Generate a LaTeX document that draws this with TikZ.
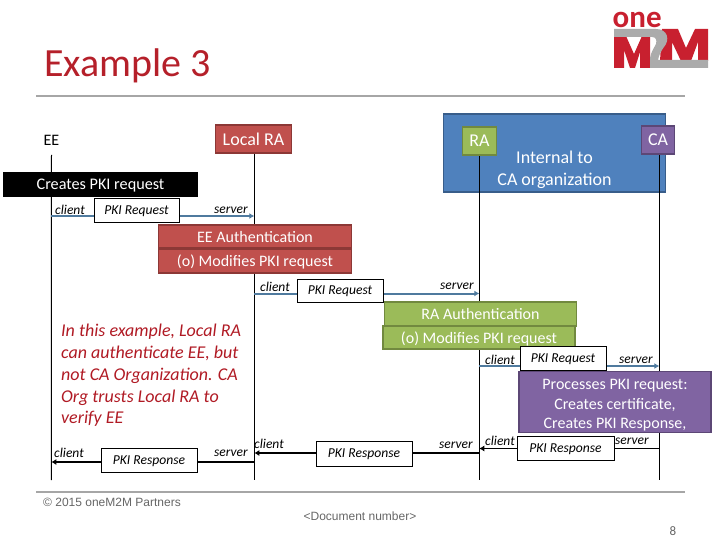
\documentclass[tikz,border=0pt]{standalone}
\usepackage{fontspec}
\setmainfont{Carlito}
\newfontfamily\footfont{Liberation Sans}
\usetikzlibrary{arrows.meta}
\definecolor{redfill}{HTML}{C0504D}\definecolor{redline}{HTML}{8C3836}
\definecolor{greenfill}{HTML}{9BBB59}\definecolor{greenline}{HTML}{71893F}
\definecolor{purplefill}{HTML}{8064A2}\definecolor{purpleline}{HTML}{5C4776}
\definecolor{bluefill}{HTML}{4F81BD}\definecolor{blueline}{HTML}{385D8A}
\definecolor{msgblue}{HTML}{4F7A9E}\definecolor{rulegray}{HTML}{A6A6A6}
\definecolor{titlered}{HTML}{B5202A}\definecolor{logored}{HTML}{C8202F}
\definecolor{logogray}{HTML}{ABABAB}\definecolor{textred}{HTML}{B01A24}
\pgfdeclarelayer{backlayer}\pgfdeclarelayer{linelayer}
\pgfsetlayers{backlayer,linelayer,main}
\tikzset{
  x=1pt,y=-1pt,
  actor/.style={draw,line width=1.6pt,text=white,font=\fontsize{16}{16}\selectfont,inner sep=0pt,text depth=0pt},
  redbox/.style={actor,fill=redfill,draw=redline},
  greenbox/.style={actor,fill=greenfill,draw=greenline},
  purplebox/.style={actor,fill=purplefill,draw=purpleline},
  msgbox/.style={draw=black,fill=white,line width=0.8pt,inner sep=0pt,text height=9pt,text depth=0.5pt,font=\fontsize{13.6}{14}\selectfont\itshape},
  rolelabel/.style={inner sep=0pt,font=\fontsize{13.5}{14}\selectfont\itshape},
  lifeline/.style={draw=black,line width=1pt},
  reqarrow/.style={draw=msgblue,line width=2pt,-{Latex[length=5pt,width=6pt]}},
  resparrow/.style={draw=black,line width=1.8pt,-{Latex[length=5pt,width=6pt]}},
  footrule/.style={draw=rulegray,line width=1.5pt},
}
\begin{document}
\begin{tikzpicture}
\useasboundingbox (0,0) rectangle (720,540);
% title and rules
\node[anchor=base west,inner sep=0pt,text=titlered,font=\fontsize{40}{40}\selectfont] (title) at (44,77) {Example 3};
\coordinate (r1a) at (36,96); \coordinate (r1b) at (685,96);
\coordinate (r2a) at (36,492); \coordinate (r2b) at (685,492);
\draw[footrule] (r1a) -- (r1b);
\draw[footrule] (r2a) -- (r2b);
% logo
\node[anchor=base west,inner sep=0pt,text=logored,font=\fontsize{31}{31}\selectfont\bfseries] (one) at (612.5,27.5) {one};
\fill[logored] (614,36) -- (626,36) -- (634,54) -- (642,36) -- (650,36) -- (650,68) -- (640,68) -- (640,52) -- (635,68) -- (630,68) -- (624,50) -- (624,68) -- (614,68) -- cycle;
\fill[logored] (662,29) -- (678,29) -- (686,48) -- (695,29) -- (708,29) -- (708,61) -- (698,61) -- (698,42) -- (691,61) -- (681,61) -- (672,42) -- (672,61) -- (660,61) -- cycle;
\fill[logogray] (614,29) -- (656,29) .. controls (668,29) and (670,40) .. (664,47) .. controls (661,51) and (659,55) .. (658,60) -- (708,60) -- (708,68) -- (650,68) -- (650,58) .. controls (651,52) and (654,48) .. (656,44) .. controls (657,40) and (656,37) .. (652,37) -- (614,37) -- cycle;
% headers
\node[inner sep=0pt,font=\fontsize{16}{16}\selectfont] (ee) at (51.5,140) {EE};
\node[redbox,font=\fontsize{18}{18}\selectfont,minimum width=76pt,minimum height=28pt] (lra) at (253.5,139) {Local RA};
\begin{pgfonlayer}{backlayer}
\node[draw=blueline,fill=bluefill,line width=1.6pt,minimum width=222pt,minimum height=78pt,inner sep=0pt] (org) at (554.5,153) {};
\end{pgfonlayer}
\node[align=center,text=white,font=\fontsize{18}{22}\selectfont,inner sep=0pt] (orgtext) at (554.5,170) {Internal to\\CA organization};
\node[greenbox,font=\fontsize{18}{18}\selectfont,minimum width=34pt,minimum height=28pt] (ra) at (479.5,141) {RA};
\node[purplebox,font=\fontsize{18}{18}\selectfont,minimum width=33pt,minimum height=28pt] (ca) at (658,140) {CA};
\coordinate (eeend) at (51.3,480); \coordinate (lraend) at (254.3,480);
\coordinate (raend) at (479.3,480); \coordinate (caend) at (659.3,480);
% step boxes
\node[fill=black,text=white,font=\fontsize{16.2}{16}\selectfont,inner sep=0pt,text depth=0pt,minimum width=195pt,minimum height=25pt] (create) at (100.5,184.5) {Creates PKI request};
\node[redbox,minimum width=193pt,minimum height=23pt] (auth1) at (255,236.5) {EE Authentication};
\node[redbox,minimum width=193pt,minimum height=24pt] (mod1) at (255,261) {(o) Modifies PKI request};
\node[greenbox,minimum width=192pt,minimum height=24pt] (auth2) at (480.5,314) {RA Authentication};
\node[greenbox,minimum width=192pt,minimum height=23pt] (mod2) at (479,337.5) {(o) Modifies PKI request};
\node[purplebox,minimum width=192pt,minimum height=61pt,align=center,font=\fontsize{16}{19.5}\selectfont] (proc) at (615,402) {\rule{0pt}{14pt}Processes PKI request:\\Creates certificate,\\Creates PKI Response,};
% message boxes
\node[msgbox,minimum width=85pt,minimum height=24pt] (m1) at (136.5,210) {PKI Request};
\node[msgbox,minimum width=86pt,minimum height=23pt] (m2) at (340,290.5) {PKI Request};
\node[msgbox,minimum width=86pt,minimum height=24pt] (m3) at (563,358) {PKI Request};
\node[msgbox,minimum width=97pt,minimum height=24pt] (m4) at (565.5,448) {PKI Response};
\node[msgbox,minimum width=96pt,minimum height=25pt] (m5) at (364,453.5) {PKI Response};
\node[msgbox,minimum width=96pt,minimum height=24pt] (m6) at (149,460) {PKI Response};
% role labels
\node[rolelabel] (c1) at (70,210) {client};
\node[rolelabel] (s1) at (231,210) {server};
\node[rolelabel] (c2) at (275,287) {client};
\node[rolelabel] (s2) at (457,286) {server};
\node[rolelabel] (c3) at (500,360) {client};
\node[rolelabel] (s3) at (636,360) {server};
\node[rolelabel] (c4) at (500,441) {client};
\node[rolelabel] (s4) at (632,441) {server};
\node[rolelabel] (s5) at (456,445) {server};
\node[rolelabel] (c5) at (269,444) {client};
\node[rolelabel] (s6) at (231,453) {server};
\node[rolelabel] (c6) at (69,453) {client};
% note
\node[anchor=north west,align=left,inner sep=0pt,text=textred,font=\fontsize{18}{21.8}\selectfont\itshape] (note) at (61,324) {In this example, Local RA\\can authenticate EE, but\\not CA Organization. CA\\Org trusts Local RA to\\verify EE};
% footer
\node[anchor=base west,inner sep=0pt,text=black!60,font=\footfont\fontsize{12}{12}\selectfont] (copy) at (43,506) {© 2015 oneM2M Partners};
\node[inner sep=0pt,text=black!60,font=\footfont\fontsize{12}{12}\selectfont] (doc) at (360,516) {<Document number>};
\node[inner sep=0pt,text=black!60,font=\fontsize{13}{13}\selectfont] (page) at (673,531) {8};
% message end points on the lifelines
\coordinate (a1) at (51.3,216); \coordinate (b1) at (254.3,216);
\coordinate (a2) at (254.3,293.5); \coordinate (b2) at (479.3,293.5);
\coordinate (a3) at (479.3,366); \coordinate (b3) at (659.3,366);
\coordinate (a4) at (659.3,448.5); \coordinate (b4) at (479.3,448.5);
\coordinate (a5) at (479.3,453); \coordinate (b5) at (254.3,453);
\coordinate (a6) at (254.3,462); \coordinate (b6) at (51.3,462);
\begin{pgfonlayer}{linelayer}
\draw[lifeline] (ee) ++(0,15) -- (eeend);
\draw[lifeline] (lra.south -| lraend) -- (lraend);
\draw[lifeline] (ra.south -| raend) -- (raend);
\draw[lifeline] (ca.south -| caend) -- (caend);
\draw[reqarrow] (a1) -- (b1);
\draw[reqarrow] (a2) -- (b2);
\draw[reqarrow] (a3) -- (b3);
\draw[draw=black,line width=0.8pt,-{Latex[length=5pt,width=6pt]}] (a4) -- (b4);
\draw[resparrow] (a5) -- (b5);
\draw[resparrow] (a6) -- (b6);
\end{pgfonlayer}
\end{tikzpicture}
\end{document}
